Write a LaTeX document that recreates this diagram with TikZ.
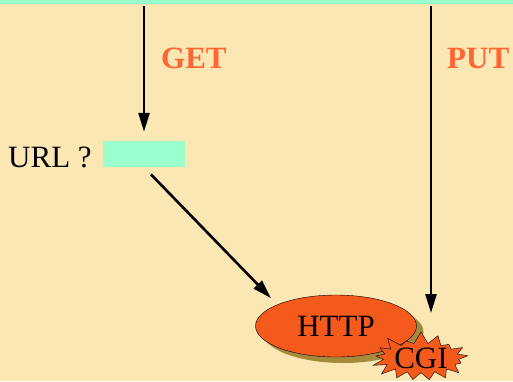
\documentclass[tikz,border=0pt]{standalone}
\usepackage{fontspec}
\setmainfont{Liberation Serif}
\usepackage{tikz}
\usetikzlibrary{arrows.meta}
\usetikzlibrary{shapes.geometric}
\usetikzlibrary{shapes.symbols}
\usetikzlibrary{shadows}

\definecolor{paper}{HTML}{FBE7B4}
\definecolor{mint}{HTML}{99FFCC}
\definecolor{method}{HTML}{FF6633}
\definecolor{server}{HTML}{F45A1C}
\definecolor{shade}{HTML}{A38A3C}

\begin{document}
\begin{tikzpicture}[x=1pt,y=-1pt]
	\fill[paper] (0,0) rectangle (513,381);
	\fill[mint] (0,0) rectangle (513,4);
	\useasboundingbox (0,0) rectangle (513,381);

	\coordinate (g0) at (144,6);
	\coordinate (p0) at (431,6);

	\begin{scope}[every node/.style={font=\fontsize{31}{36}\selectfont, inner sep = 0pt}]
		\node[anchor=base west, text=method, font=\fontsize{31}{36}\selectfont\bfseries] (get) at (161,68) {GET};
		\node[anchor=base west, text=method, font=\fontsize{31}{36}\selectfont\bfseries] (put) at (447,68) {PUT};
		\node[anchor=base west] (url) at (8,167) {URL ?};
		\node[fill=mint, minimum width=82pt, minimum height=26pt] (box) at (144,154) {};
		\node[ellipse, draw=black, thin, fill=server, minimum width=161pt, minimum height=62pt,
		      drop shadow={shadow xshift=7pt, shadow yshift=-6pt, fill=shade, opacity=1}] (http) at (336,326) {HTTP};
		\node[starburst, draw=black, thin, fill=server, minimum width=96pt, minimum height=44pt,
		      starburst points=17, starburst point height=12pt, random starburst=20] (cgi) at (421,358) {CGI};
	\end{scope}

	\begin{scope}[>={Triangle[length=19pt, width=11pt]},
	              every edge/.style={draw=black, line width=2.6pt}]
		\path (g0) edge[->, shorten >=9pt] (box.north);
		\path (p0) edge[->, shorten >=45pt] (p0 |- cgi);
		\path (box.south) edge[->, shorten <=10pt, shorten >=9pt] (http.160);
	\end{scope}
\end{tikzpicture}
\end{document}
